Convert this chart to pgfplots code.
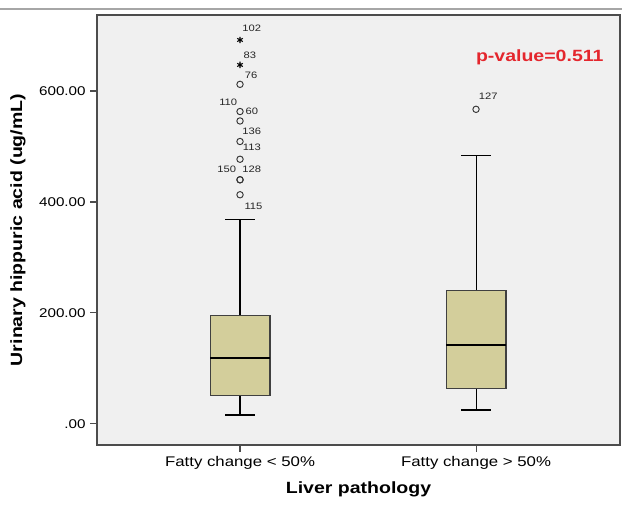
\documentclass[border=0pt]{standalone}
\usepackage{fontspec}
\setmainfont[FakeStretch=1.2]{Liberation Sans}
\usepackage{pgfplots}
\pgfplotsset{compat=1.18}
\definecolor{boxtan}{RGB}{211,206,155}
\definecolor{bggray}{RGB}{240,240,240}
\definecolor{pred}{RGB}{228,38,45}
\begin{document}
\begin{tikzpicture}
\begin{axis}[name=ax, scale only axis, width=392.25pt, height=322.5pt,
  xmin=0.394, xmax=2.61, ymin=-38, ymax=737,
  axis background/.style={fill=bggray},
  axis line style={draw=black!70, line width=0.8pt},
  xtick={1,2}, xticklabels={Fatty change < 50\%, Fatty change > 50\%},
  ytick={0,200,400,600}, yticklabels={.00,200.00,400.00,600.00},
  xtick pos=left, ytick pos=left,
  tick align=outside, major tick length=5pt,
  tick style={draw=black!70, line width=0.8pt},
  /pgf/number format/assume math mode=true,
  x tick label style={font=\fontsize{10.5}{12}\selectfont},
  y tick label style={font=\fontsize{9.5}{11}\selectfont},
  xlabel={Liver pathology}, ylabel={Urinary hippuric acid (ug/mL)},
  label style={font=\fontsize{12.2}{14}\selectfont\bfseries},
  xlabel style={at={(rel axis cs:0.5,-0.1023)}, anchor=center},
  ylabel style={at={(rel axis cs:-0.151,0.5)}, anchor=center},
  clip=false,
]
% --- box 1: whisker 16, Q1 52, median 119, Q3 195, whisker 369
\addplot[black, line width=0.8pt] coordinates {(1,16) (1,52)};
\addplot[black, line width=0.8pt] coordinates {(1,195) (1,369)};
\addplot[black, line width=0.8pt] coordinates {(0.9365,16) (1.0635,16)};
\addplot[black, line width=0.8pt] coordinates {(0.9365,369) (1.0635,369)};
\addplot[fill=boxtan, draw=black!75, line width=0.8pt] coordinates {(0.873,52) (1.127,52) (1.127,195) (0.873,195)} -- cycle;
\addplot[black, line width=1.8pt] coordinates {(0.873,119) (1.127,119)};
% --- box 2: whisker 25, Q1 63, median 142, Q3 241, whisker 483
\addplot[black, line width=0.8pt] coordinates {(2,25) (2,63)};
\addplot[black, line width=0.8pt] coordinates {(2,241) (2,483)};
\addplot[black, line width=0.8pt] coordinates {(1.9365,25) (2.0635,25)};
\addplot[black, line width=0.8pt] coordinates {(1.9365,483) (2.0635,483)};
\addplot[fill=boxtan, draw=black!75, line width=0.8pt] coordinates {(1.873,63) (2.127,63) (2.127,241) (1.873,241)} -- cycle;
\addplot[black, line width=1.8pt] coordinates {(1.873,142) (2.127,142)};
% outliers (circles)
\addplot[only marks, mark=o, mark size=2.4pt, black!80, line width=0.7pt] coordinates {
  (1,612) (1,563) (1,546) (1,509) (1,477) (1,440) (1,440) (1,413) (2,567)};
% extreme values (stars)
\addplot[only marks, mark=asterisk, mark size=2.4pt, black, line width=0.8pt] coordinates {
  (1,692) (1,647)};
\node[font=\fontsize{7}{8}\selectfont, text=black!85] at (axis cs:1.05,713) {102};
\node[font=\fontsize{7}{8}\selectfont, text=black!85] at (axis cs:1.042,665) {83};
\node[font=\fontsize{7}{8}\selectfont, text=black!85] at (axis cs:1.047,629) {76};
\node[font=\fontsize{7}{8}\selectfont, text=black!85] at (axis cs:0.95,580) {110};
\node[font=\fontsize{7}{8}\selectfont, text=black!85] at (axis cs:1.05,564) {60};
\node[font=\fontsize{7}{8}\selectfont, text=black!85] at (axis cs:1.05,528) {136};
\node[font=\fontsize{7}{8}\selectfont, text=black!85] at (axis cs:1.05,498) {113};
\node[font=\fontsize{7}{8}\selectfont, text=black!85] at (axis cs:0.944,459) {150};
\node[font=\fontsize{7}{8}\selectfont, text=black!85] at (axis cs:1.05,459) {128};
\node[font=\fontsize{7}{8}\selectfont, text=black!85] at (axis cs:1.057,393) {115};
\node[font=\fontsize{7}{8}\selectfont, text=black!85] at (axis cs:2.052,590) {127};
\node[font=\fontsize{12.2}{14}\selectfont\bfseries, text=pred] at (axis cs:2.27,661) {p-value=0.511};
\end{axis}
\draw[black!35, line width=0.8pt] ([xshift=-72.75pt, yshift=4.5pt]ax.north west) -- ([xshift=1.5pt,yshift=4.5pt]ax.north east);
\pgfresetboundingbox
\path ([xshift=-72.75pt,yshift=-46.5pt]ax.south west) rectangle ([xshift=1.5pt,yshift=11.25pt]ax.north east);
\end{tikzpicture}
\end{document}
